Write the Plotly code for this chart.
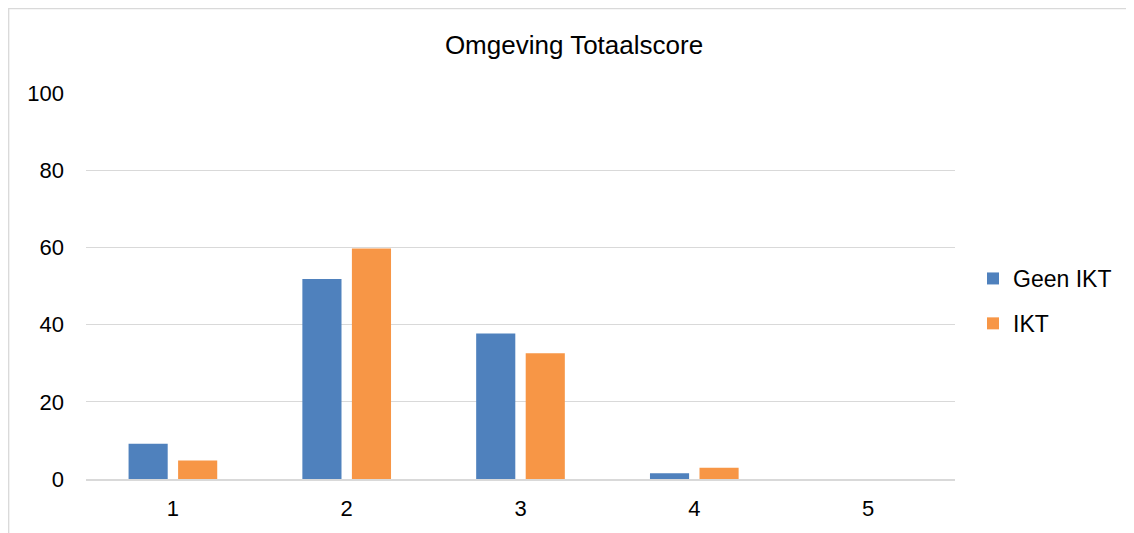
import plotly.graph_objects as go

categories = ["1", "2", "3", "4", "5"]
geen_ikt = [9.1, 51.8, 37.7, 1.5, 0]
ikt = [4.8, 59.7, 32.6, 2.9, 0]
y_ticks = [0, 20, 40, 60, 80, 100]

FONT = "Liberation Sans, Arial, sans-serif"
OFF = 8  # page body margin
W, H = 1134 - OFF, 533 - OFF
L, T = 86 - OFF, 93 - OFF
pw, ph = 869, 386
R = W - L - pw
B = H - T - ph

fig = go.Figure()
fig.add_trace(go.Bar(x=categories, y=geen_ikt, name="Geen IKT", marker_color="#4F81BD",
                     legendgroup="a", marker_line_width=0))
fig.add_trace(go.Bar(x=categories, y=ikt, name="IKT", marker_color="#F79646",
                     legendgroup="b", marker_line_width=0))

fig.update_layout(
    width=W, height=H,
    margin=dict(l=L, r=R, t=T, b=B),
    paper_bgcolor="white", plot_bgcolor="white",
    barmode="group", bargap=0.43, bargroupgap=0.21,
    font=dict(family=FONT, color="#000000", size=22),
    title=dict(text="Omgeving Totaalscore", x=(574 - OFF) / W, xref="container", xanchor="center",
               y=1 - (45 - OFF) / H, yref="container", yanchor="middle",
               font=dict(size=26, color="#000000", family=FONT)),
    legend=dict(x=(973 - 86) / pw, xanchor="left", y=(479 - 301) / ph, yanchor="middle",
                font=dict(size=23, family=FONT), tracegroupgap=12, bgcolor="rgba(0,0,0,0)"),
    showlegend=True,
)
fig.update_yaxes(range=[0, 100], tickvals=y_ticks, showgrid=True, gridcolor="#d9d9d9", gridwidth=1.3,
                 zeroline=False, showline=False, ticks="", ticklabelstandoff=21,
                 tickfont=dict(size=22, family=FONT))
fig.update_xaxes(showline=True, linecolor="#d9d9d9", linewidth=1.5, ticks="",
                 ticklabelstandoff=9, tickfont=dict(size=22, family=FONT))

# chart-area border (light gray); left and top edges visible
fig.add_shape(type="rect", xref="paper", yref="paper",
              x0=(0.7 - L) / pw, x1=(W + 20 - L) / pw, y0=-(B + 20) / ph,
              y1=(T + ph - 0.7) / ph, line=dict(color="#d9d9d9", width=1.3), layer="below")

fig.write_html("out.html")
